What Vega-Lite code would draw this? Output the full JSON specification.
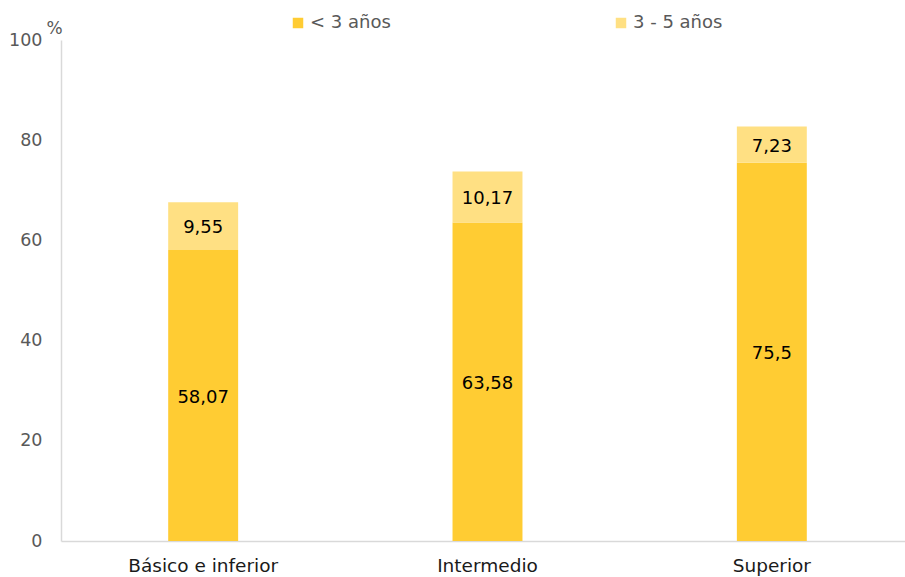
{
  "$schema": "https://vega.github.io/schema/vega-lite/v6.json",
  "autosize": "none",
  "padding": {"left": 61, "top": 40, "right": 0, "bottom": 36},
  "width": 853,
  "height": 501,
  "config": {
    "view": {"stroke": null},
    "font": "DejaVu Sans",
    "locale": {"number": {"decimal": ",", "thousands": ".", "grouping": [3], "currency": ["", " €"]}}
  },
  "data": {
    "values": [
      {"nivel": "Básico e inferior", "grupo": "< 3 años", "orden": 1, "valor": 58.07},
      {"nivel": "Básico e inferior", "grupo": "3 - 5 años", "orden": 2, "valor": 9.55},
      {"nivel": "Intermedio", "grupo": "< 3 años", "orden": 1, "valor": 63.58},
      {"nivel": "Intermedio", "grupo": "3 - 5 años", "orden": 2, "valor": 10.17},
      {"nivel": "Superior", "grupo": "< 3 años", "orden": 1, "valor": 75.5},
      {"nivel": "Superior", "grupo": "3 - 5 años", "orden": 2, "valor": 7.23}
    ]
  },
  "encoding": {
    "x": {
      "field": "nivel", "type": "nominal", "sort": null,
      "scale": {"paddingInner": 0.754, "paddingOuter": 0.377},
      "axis": {"title": null, "labelAngle": 0, "labelFontSize": 18.5, "labelColor": "#1a1a1a", "labelPadding": 15, "ticks": false, "domainColor": "#d9d9d9", "domainWidth": 1.5}
    }
  },
  "layer": [
    {
      "mark": {"type": "bar"},
      "encoding": {
        "y": {
          "field": "valor", "type": "quantitative", "stack": "zero",
          "scale": {"domain": [0, 100]},
          "axis": {"title": "%", "titleAngle": 0, "titleX": -15, "titleY": -3, "titleAlign": "left", "titleBaseline": "bottom", "titleFontSize": 17, "titleFontWeight": "normal", "titleColor": "#595959",
            "values": [0, 20, 40, 60, 80, 100], "labelFontSize": 17.5, "labelColor": "#595959", "labelPadding": 19, "ticks": false, "grid": false, "domainColor": "#d9d9d9", "domainWidth": 1.5}
        },
        "order": {"field": "orden", "type": "quantitative"},
        "color": {
          "field": "grupo", "type": "nominal",
          "scale": {"domain": ["< 3 años", "3 - 5 años"], "range": ["#FFCC33", "#FFE083"]},
          "legend": {"title": null, "orient": "none", "legendX": 228, "legendY": -26, "direction": "horizontal", "symbolType": "square", "symbolSize": 110, "labelFontSize": 18, "labelColor": "#595959", "columnPadding": 221, "labelOffset": 3}
        }
      }
    },
    {
      "transform": [
        {"stack": "valor", "groupby": ["nivel"], "sort": [{"field": "orden"}], "as": ["v0", "v1"]},
        {"calculate": "(datum.v0 + datum.v1) / 2", "as": "medio"}
      ],
      "mark": {"type": "text", "fontSize": 18, "color": "#000000", "dy": 2},
      "encoding": {
        "y": {"field": "medio", "type": "quantitative", "scale": {"domain": [0, 100]}},
        "text": {"field": "valor", "type": "quantitative", "format": ".4~r"}
      }
    }
  ]
}
